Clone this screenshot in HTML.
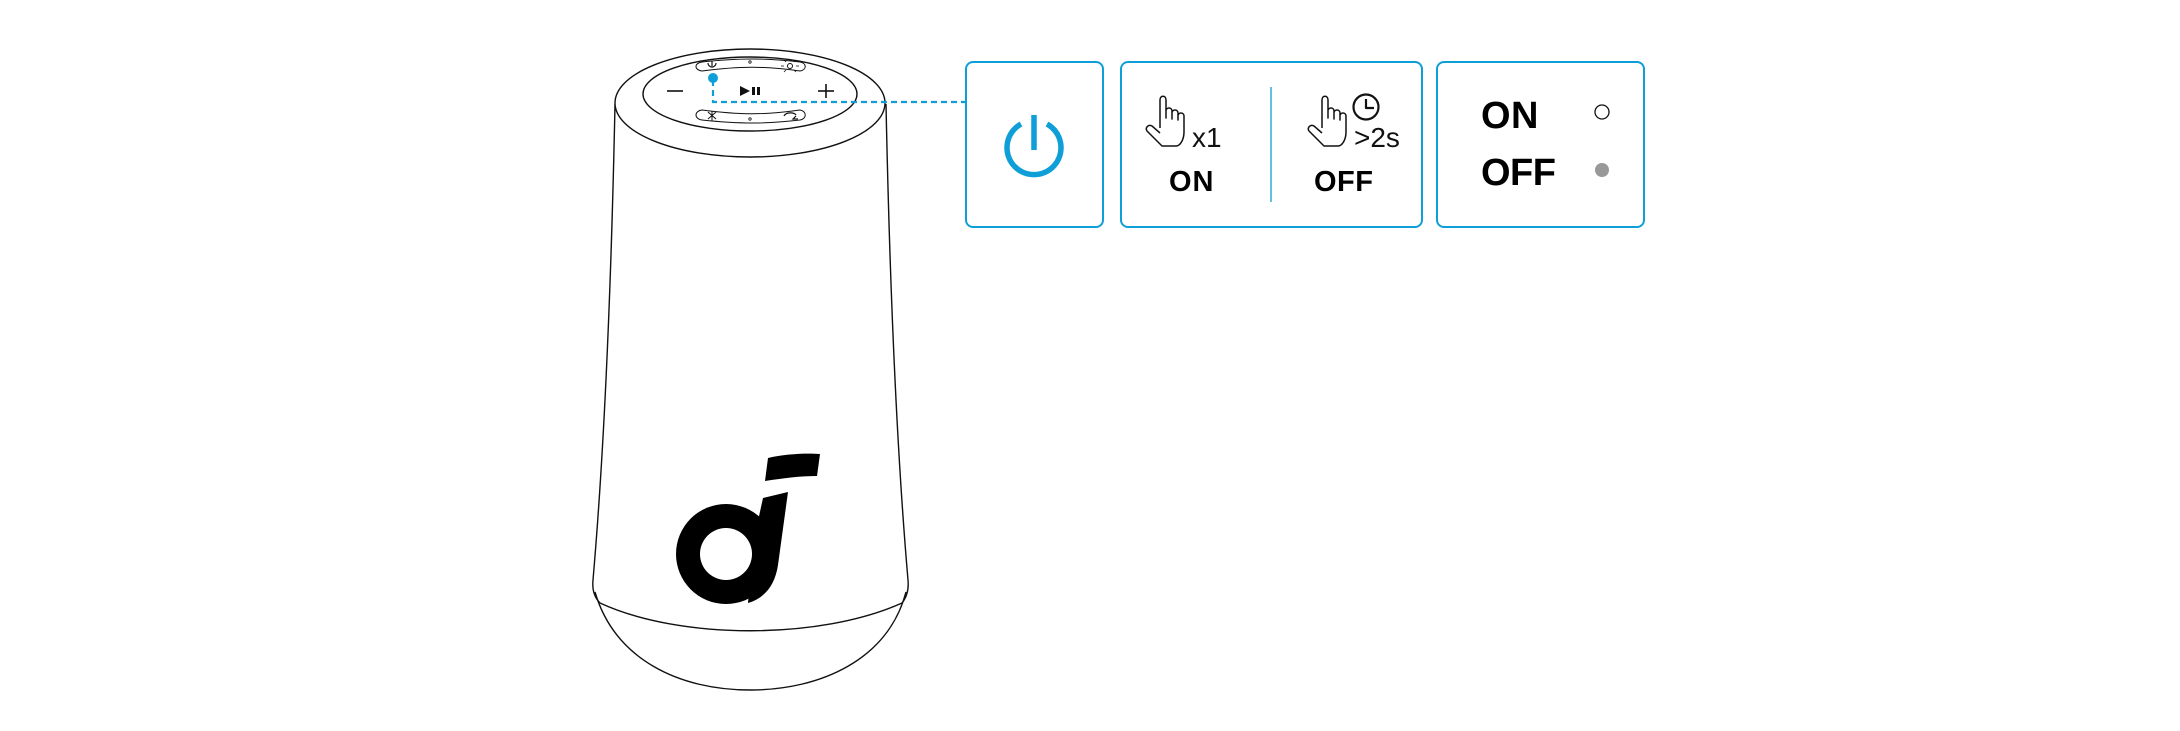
<!DOCTYPE html>
<html><head><meta charset="utf-8"><style>
html,body{margin:0;padding:0;background:#fff;}
svg{display:block;}
text{font-family:"Liberation Sans",Arial,sans-serif;}
</style></head><body>
<svg width="2180" height="731" viewBox="0 0 2180 731" xmlns="http://www.w3.org/2000/svg">
<g fill="none" stroke="#111" stroke-width="1.4">
  <path d="M615,104 C612,250 606,430 593,580 C592,590 595,598 600,603"/>
  <path d="M886,104 C889,250 895,430 908,580 C909,590 906,598 902,603"/>
  <path d="M600,603 C680,640 820,640 902,603"/>
  <path d="M595,592 C615,660 680,690 750,690 C820,690 888,660 906,592"/>
  <ellipse cx="750" cy="103" rx="135" ry="54" fill="#fff"/>
  <ellipse cx="750" cy="94" rx="107" ry="37"/>
  <path stroke-width="1" d="M702,62 C740,58 765,58 800,62 C807,63 807,70 800,71 C765,66 740,66 702,71 C694,70 694,63 702,62 Z"/>
  <path stroke-width="1" d="M702,110 C740,115 765,115 800,110 C807,111 807,119 800,120 C765,124 740,124 702,120 C694,119 694,111 702,110 Z"/>
  <circle cx="750" cy="62" r="1.2" stroke-width="0.8"/>
  <circle cx="750" cy="119" r="1.2" stroke-width="0.8"/>
  <path stroke-width="1.2" d="M708,63 A4,4 0 1 0 716,63"/><line x1="712" y1="61" x2="712" y2="66" stroke-width="1.2"/>
  <circle cx="790" cy="66" r="2.5" stroke-width="1"/>
  <path stroke-width="0.8" d="M784,66h-3M799,66h-3M790,61v-2M786,62l-2,-2M794,62l2,-2M786,70l-2,2M794,70l2,2"/>
  <path stroke-width="1" d="M708,112 L716,119 M716,112 L708,119 M712,111 V121"/>
  <path stroke-width="1.2" d="M784,116 C786,112 794,112 796,115 M796,116 L793,119 L798,119"/>
  <line x1="667" y1="91" x2="683" y2="91" stroke-width="1.6"/>
  <line x1="818" y1="91" x2="834" y2="91" stroke-width="1.6"/>
  <line x1="826" y1="84" x2="826" y2="98" stroke-width="1.6"/>
</g>
<path d="M740,86 L750,91 L740,96 Z" fill="#111"/>
<rect x="752" y="87" width="3" height="8" fill="#111"/><rect x="757" y="87" width="3" height="8" fill="#111"/>
<!-- logo -->
<path fill="#000" d="M763,498 L788,492 L778,565 C775,585 765,598 748,603 L750,580 L754,560 L756,530 Z"/>
<circle cx="726" cy="554" r="50" fill="#000"/>
<circle cx="726" cy="554" r="26" fill="#fff"/>
<path fill="#000" d="M768,458 C785,454 805,453 820,454 L817,476 C800,476 785,478 765,481 Z"/>
<!-- connector -->
<circle cx="713" cy="78" r="5" fill="#0e9fd9"/>
<path d="M713,80 V102 H966" fill="none" stroke="#0e9fd9" stroke-width="2.2" stroke-dasharray="6,4"/>
<g fill="#fff" stroke="#0e9fd9" stroke-width="2">
  <rect x="966" y="62" width="137" height="165" rx="7"/>
  <rect x="1121" y="62" width="301" height="165" rx="7"/>
  <rect x="1437" y="62" width="207" height="165" rx="7"/>
</g>
<line x1="1271" y1="87" x2="1271" y2="202" stroke="#0e9fd9" stroke-width="1.3"/>
<g fill="none" stroke="#0e9fd9" stroke-width="5.5" stroke-linecap="butt">
  <path d="M1021,124 A27,27 0 1 0 1047,124"/>
  <line x1="1034" y1="115" x2="1034" y2="150"/>
</g>
<g fill="none" stroke="#111" stroke-width="1.5" stroke-linejoin="round">
  <path d="M1160,128 V100 C1160,95 1166,95 1166,100 V118 V111 C1166,107 1172,107 1172,111 V119 V113 C1172,109 1178,109 1178,113 V120 V116 C1178,112 1184,112 1184,116 V132 C1184,140 1180,146 1176,146 H1162 C1157,141 1152,136 1147,131 C1145,128 1148,124 1152,126 L1160,133"/>
  <path d="M1322,128 V100 C1322,95 1328,95 1328,100 V118 V111 C1328,107 1334,107 1334,111 V119 V113 C1334,109 1340,109 1340,113 V120 V116 C1340,112 1346,112 1346,116 V132 C1346,140 1342,146 1338,146 H1324 C1319,141 1314,136 1309,131 C1307,128 1310,124 1314,126 L1322,133"/>
  <circle cx="1366" cy="107" r="12.5" stroke-width="2.2"/>
  <path d="M1366,99 V108 H1374" stroke-width="2.2"/>
</g>
<text x="1192" y="147" font-size="28" fill="#111">x1</text>
<text x="1354" y="147" font-size="28" fill="#111">&gt;2s</text>
<text x="1169" y="191" font-size="29" font-weight="bold" fill="#000" letter-spacing="1">ON</text>
<text x="1314" y="191" font-size="29" font-weight="bold" fill="#000" letter-spacing="0.5">OFF</text>
<text x="1481" y="128" font-size="38" font-weight="bold" fill="#000" letter-spacing="0.5">ON</text>
<text x="1481" y="185" font-size="38" font-weight="bold" fill="#000" letter-spacing="-0.5">OFF</text>
<circle cx="1602" cy="112" r="7" fill="none" stroke="#111" stroke-width="1.3"/>
<circle cx="1602" cy="170" r="7" fill="#999"/>
</svg>
</body></html>
